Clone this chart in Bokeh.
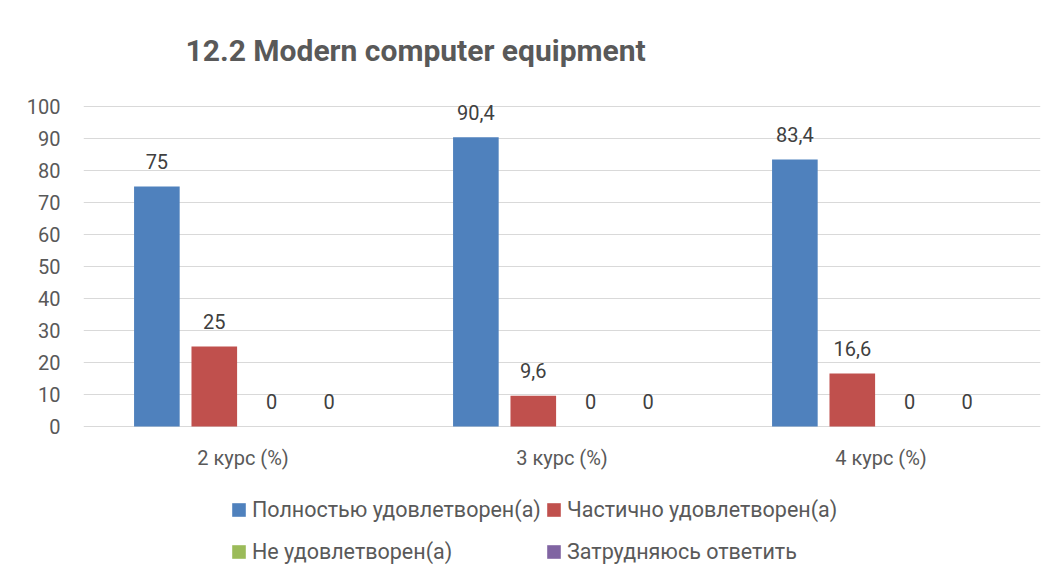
from bokeh.plotting import figure
from bokeh.models import ColumnDataSource, FactorRange, Range1d, Legend, LegendItem, Title, FixedTicker
from bokeh.transform import dodge
from bokeh.embed import file_html
from bokeh.resources import INLINE

categories = ["2 курс (%)", "3 курс (%)", "4 курс (%)"]
series_names = ["Полностью удовлетворен(а)", "Частично удовлетворен(а)",
                "Не удовлетворен(а)", "Затрудняюсь ответить"]
full = [75, 90.4, 83.4]
partial = [25, 9.6, 16.6]
not_sat = [0, 0, 0]
hard = [0, 0, 0]
y_ticks = [0, 10, 20, 30, 40, 50, 60, 70, 80, 90, 100]
colors = ["#4F81BD", "#C0504D", "#9BBB59", "#8064A2"]

FONT = "Roboto"

def fmt(v):
    return ("%g" % v).replace(".", ",")

src = ColumnDataSource(dict(
    cat=categories,
    base=[0] * len(categories),
    s0=full, s1=partial, s2=not_sat, s3=hard,
    l0=[fmt(v) for v in full], l1=[fmt(v) for v in partial],
    l2=[fmt(v) for v in not_sat], l3=[fmt(v) for v in hard],
))

W, H = 1041, 564
FRAME_TOP, LEFT = 80, 83
TOP100 = 106          # screen y of the 100 gridline
ZERO = 426            # screen y of the 0 line
PX_PER_UNIT = (ZERO - TOP100) / 100.0
p = figure(x_range=FactorRange(*categories),
           y_range=Range1d(-(H - ZERO) / PX_PER_UNIT, 100 + (TOP100 - FRAME_TOP) / PX_PER_UNIT),
           width=W, height=H, output_backend="svg", toolbar_location=None,
           x_axis_location=None,
           min_border_left=LEFT, min_border_right=1, min_border_top=FRAME_TOP, min_border_bottom=0)
t = Title(text="12.2 Modern computer equipment", align="left", offset=102,
          text_font=FONT, text_font_size="30px", text_font_style="bold",
          text_color="#595959", standoff=26)
p.add_layout(t, "above")

offsets = [-0.27, -0.09, 0.09, 0.27]
renderers = []
for i in range(4):
    r = p.vbar(x=dodge("cat", offsets[i], range=p.x_range), top="s%d" % i, width=0.143,
               source=src, fill_color=colors[i], line_color=None)
    renderers.append(r)
    p.text(x=dodge("cat", offsets[i], range=p.x_range), y="s%d" % i, text="l%d" % i,
           source=src, text_align="center", text_baseline="middle", y_offset=-25,
           text_font_size="20px", text_color="#404040", text_font={"value": FONT})

# category labels under the zero line
p.text(x="cat", y="base", text="cat", source=src, text_align="center",
       text_baseline="middle", y_offset=31, text_font_size="20px",
       text_color="#595959", text_font={"value": FONT})

p.outline_line_color = None
p.xgrid.grid_line_color = None
p.ygrid.grid_line_color = "#D9D9D9"
p.ygrid.grid_line_width = 1
p.yaxis.ticker = FixedTicker(ticks=y_ticks)
p.yaxis.axis_line_color = None
p.yaxis.major_tick_line_color = None
p.yaxis.minor_tick_line_color = None
p.yaxis.major_label_standoff = 17
p.yaxis.major_label_text_font = FONT
p.yaxis.major_label_text_font_size = "20px"
p.yaxis.major_label_text_color = "#595959"

def make_legend(items, x, y):
    lg = Legend(items=items, location=(x, y), orientation="vertical",
                glyph_width=17, glyph_height=17, label_height=20, spacing=17,
                label_standoff=5, padding=0, margin=0, border_line_color=None,
                background_fill_alpha=0, label_text_font=FONT,
                label_text_font_size="21.5px", label_text_color="#595959")
    p.add_layout(lg, "center")

make_legend([LegendItem(label=series_names[0], renderers=[renderers[0]]),
             LegendItem(label=series_names[2], renderers=[renderers[2]])], 147, 0)
make_legend([LegendItem(label=series_names[1], renderers=[renderers[1]]),
             LegendItem(label=series_names[3], renderers=[renderers[3]])], 462, 0)

open("out.html", "w").write(file_html(p, INLINE))
